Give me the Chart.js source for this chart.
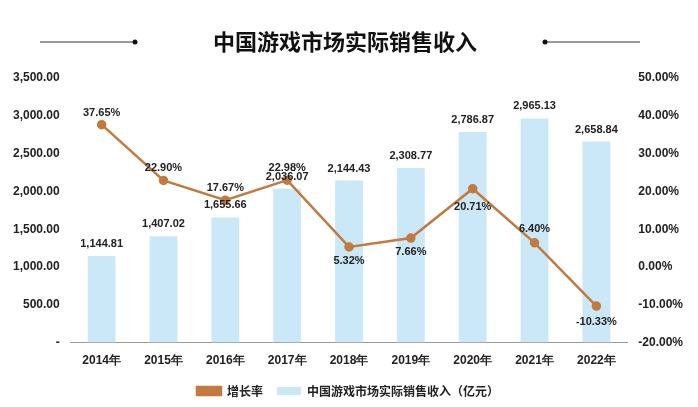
<!DOCTYPE html>
<html><head><meta charset="utf-8">
<script src="https://cdn.jsdelivr.net/npm/chart.js@4"></script>
<style>html,body{margin:0;padding:0;background:#fff}#w{width:698px;height:407px}</style>
</head><body><div id="w"><canvas id="c"></canvas></div>
<script>
const categories=['2014年','2015年','2016年','2017年','2018年','2019年','2020年','2021年','2022年'];
const revenue=[1144.81,1407.02,1655.66,2036.07,2144.43,2308.77,2786.87,2965.13,2658.84];
const growth=[37.65,22.90,17.67,22.98,5.32,7.66,20.71,6.40,-10.33];
const fmt=v=>v.toLocaleString('en-US',{minimumFractionDigits:2,maximumFractionDigits:2});
const deco={id:'deco',afterDraw(ch){const c=ch.ctx;c.save();
 c.fillStyle='#111';c.font='bold 22px "Noto Sans CJK SC"';c.textAlign='center';c.textBaseline='middle';
 c.fillText('中国游戏市场实际销售收入',345,42);
 c.strokeStyle='#333';c.lineWidth=1;c.beginPath();c.moveTo(40,42);c.lineTo(135,42);c.moveTo(545,42);c.lineTo(640,42);c.stroke();
 c.beginPath();c.arc(135,42,2.5,0,7);c.fill();c.beginPath();c.arc(545,42,2.5,0,7);c.fill();
 c.font='bold 11px "Liberation Sans"';c.fillStyle='#222';
 const b=ch.getDatasetMeta(0).data, l=ch.getDatasetMeta(1).data;
 b.forEach((e,i)=>c.fillText(fmt(revenue[i]),e.x,e.y-12));
 const off=[-12,-12,-12,-12,14,14,18,-14,16];
 l.forEach((e,i)=>c.fillText(growth[i].toFixed(2)+'%',e.x,e.y+off[i]));
 c.restore();}};
new Chart(document.getElementById('c'),{
 data:{labels:categories,datasets:[
  {type:'bar',label:'中国游戏市场实际销售收入（亿元）',data:revenue,backgroundColor:'#cbe8f8',yAxisID:'y',barPercentage:0.45,categoryPercentage:1,order:2},
  {type:'line',label:'增长率',data:growth,borderColor:'#c27a3f',backgroundColor:'#c27a3f',borderWidth:2.5,pointRadius:3.5,yAxisID:'y1',order:1}]},
 options:{responsive:true,maintainAspectRatio:false,animation:false,
  layout:{padding:{top:78,left:10,right:12,bottom:0}},
  plugins:{legend:{position:'bottom',labels:{color:'#222',font:{size:12,family:'Noto Sans CJK SC',weight:'bold'},boxWidth:24,boxHeight:8,padding:14}},tooltip:{enabled:false}},
  scales:{
   x:{grid:{display:false},border:{color:'#999'},ticks:{color:'#222',font:{size:12,family:'Liberation Sans',weight:'bold'}}},
   y:{min:0,max:3500,grid:{display:false},border:{display:false},ticks:{stepSize:500,color:'#222',font:{size:12,family:'Liberation Sans',weight:'bold'},callback:v=>v===0?'-':fmt(v)}},
   y1:{position:'right',min:-20,max:50,grid:{display:false},border:{display:false},ticks:{stepSize:10,color:'#222',font:{size:12,family:'Liberation Sans',weight:'bold'},callback:v=>v.toFixed(2)+'%'}}
  }},
 plugins:[deco]});
</script></body></html>
